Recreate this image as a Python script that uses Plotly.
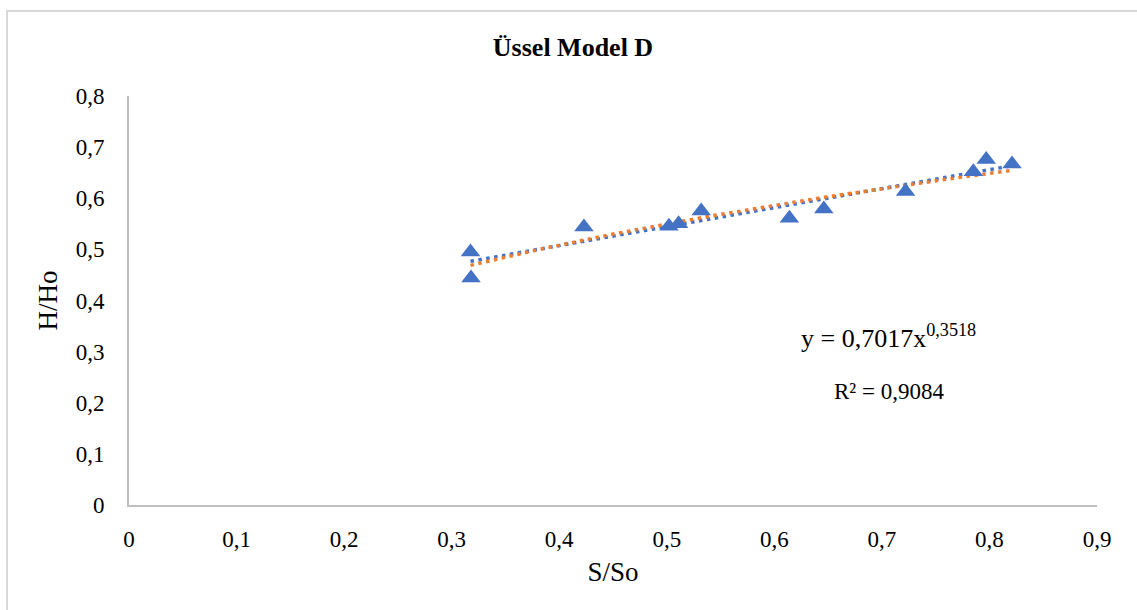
import numpy as np
import plotly.graph_objects as go

# Data (S/So, H/Ho)
s_so = [0.3175, 0.318, 0.423, 0.502, 0.511, 0.532, 0.614, 0.646, 0.722, 0.785, 0.797, 0.821]
h_ho = [0.495, 0.444, 0.544, 0.545, 0.550, 0.575, 0.561, 0.579, 0.613, 0.652, 0.676, 0.667]

# Power trendline coefficients (as displayed)
pow_a = 0.7017
pow_b = 0.3518
r2_text = "0,9084"

x_ticks = [0, 0.1, 0.2, 0.3, 0.4, 0.5, 0.6, 0.7, 0.8, 0.9]
x_tick_labels = ["0", "0,1", "0,2", "0,3", "0,4", "0,5", "0,6", "0,7", "0,8", "0,9"]
y_ticks = [0, 0.1, 0.2, 0.3, 0.4, 0.5, 0.6, 0.7, 0.8]
y_tick_labels = ["0", "0,1", "0,2", "0,3", "0,4", "0,5", "0,6", "0,7", "0,8"]

FONT = "Liberation Serif"
BLUE = "#4472C4"
ORANGE = "#ED7D31"

xs = np.array(s_so)
ys = np.array(h_ho)
xfit = np.linspace(xs.min(), xs.max(), 200)
lin = np.polyfit(xs, ys, 1)
y_lin = np.polyval(lin, xfit)
y_pow = pow_a * xfit ** pow_b

fig = go.Figure()
fig.add_trace(go.Scatter(x=xfit, y=y_lin, mode="lines",
                         line=dict(color=BLUE, width=3.5, dash="3.5px,4.5px"),
                         hoverinfo="skip", showlegend=False))
fig.add_trace(go.Scatter(x=xfit, y=y_pow, mode="lines",
                         line=dict(color=ORANGE, width=3.5, dash="3.5px,4.5px"),
                         hoverinfo="skip", showlegend=False))
fig.add_trace(go.Scatter(x=s_so, y=h_ho, mode="markers",
                         marker=dict(symbol="triangle-up", size=17, color=BLUE),
                         showlegend=False))

fig.update_layout(
    width=1137, height=610,
    margin=dict(l=129, r=40, t=96, b=105),
    paper_bgcolor="white", plot_bgcolor="white",
    font=dict(family=FONT, color="black"),
    title=dict(text="<b>Üssel Model D</b>", x=573/1137, xref="container", xanchor="center",
               y=1-47/610, yref="container", yanchor="middle",
               font=dict(family=FONT, size=26, color="black")),
    xaxis=dict(range=[0, 0.9], tickvals=x_ticks, ticktext=x_tick_labels,
               showgrid=False, zeroline=False, showline=True, linecolor="#BFBFBF", linewidth=2,
               ticks="", ticklabelstandoff=12, tickfont=dict(family=FONT, size=23),
               title=dict(text="S/So", font=dict(family=FONT, size=27), standoff=12)),
    yaxis=dict(range=[0, 0.8], tickvals=y_ticks, ticktext=y_tick_labels,
               showgrid=False, zeroline=False, showline=True, linecolor="#BFBFBF", linewidth=2,
               ticks="", ticklabelstandoff=18, tickfont=dict(family=FONT, size=23),
               title=dict(text="H/Ho", font=dict(family=FONT, size=27), standoff=10)),
    shapes=[dict(type="rect", xref="paper", yref="paper",
                 x0=(7-129)/968, x1=(1150-129)/968, y0=(505-625)/409, y1=(505-11)/409,
                 line=dict(color="#D9D9D9", width=2), fillcolor="rgba(0,0,0,0)", layer="below")],
    annotations=[
        dict(text="y = 0,7017x<sup>0,3518</sup>", xref="paper", yref="paper",
             x=(888-129)/968, y=(505-336)/409, xanchor="center", yanchor="middle",
             showarrow=False, font=dict(family=FONT, size=26, color="black")),
        dict(text="R² = " + r2_text, xref="paper", yref="paper",
             x=(889-129)/968, y=(505-391)/409, xanchor="center", yanchor="middle",
             showarrow=False, font=dict(family=FONT, size=23, color="black")),
    ],
)

fig.write_html("out.html")
